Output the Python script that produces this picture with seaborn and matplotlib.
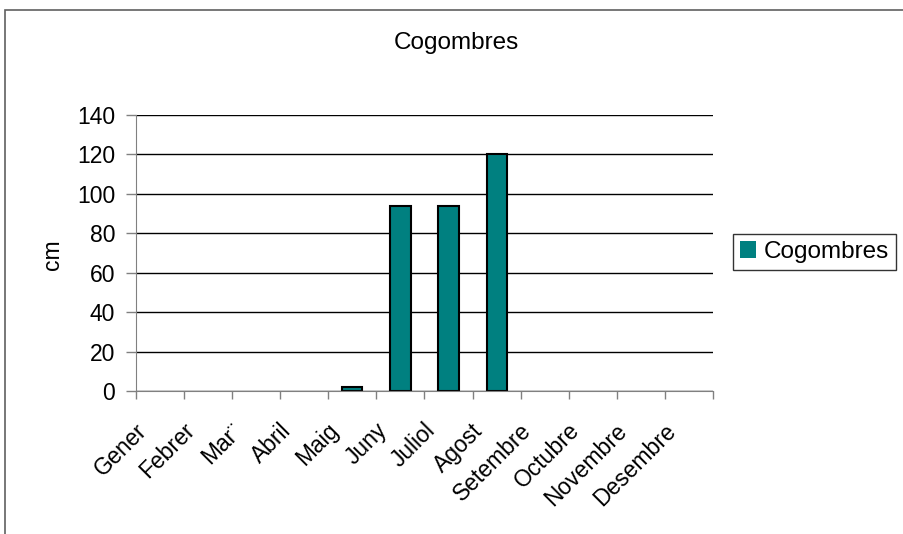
import matplotlib
matplotlib.use("Agg")
import matplotlib.pyplot as plt
import matplotlib.transforms as mtrans
from matplotlib.patches import Rectangle
import seaborn as sns
import pandas as pd

months = ["Gener", "Febrer", "Mar\u00a8", "Abril", "Maig", "Juny", "Juliol",
          "Agost", "Setembre", "Octubre", "Novembre", "Desembre"]
heights = [0, 0, 0, 0, 2, 94, 94, 120, 0, 0, 0, 0]
series_name = "Cogombres"
y_ticks = [0, 20, 40, 60, 80, 100, 120, 140]

sns.set_style("white")
plt.rcParams["font.family"] = ["Liberation Sans", "DejaVu Sans"]
plt.rcParams["text.color"] = "black"
plt.rcParams["xtick.labelcolor"] = "black"
plt.rcParams["ytick.labelcolor"] = "black"
FS = 16.5
FS_BIG = 17.5

df = pd.DataFrame({"mes": months, "cm": heights, "serie": series_name})

fig = plt.figure(figsize=(9.04, 5.34), dpi=100)
ax = fig.add_axes([136 / 904, 1 - 391 / 534, (713 - 136) / 904, (391 - 115) / 534])

sns.barplot(data=df, x="mes", y="cm", hue="serie", palette=["#008080"],
            saturation=1, edgecolor="black", linewidth=1.5, width=0.42,
            ax=ax, legend=True)
# empty months carry no visible bar outline
for p in ax.patches:
    if p.get_height() == 0:
        p.set_linewidth(0)

ax.set_ylim(0, 140)
ax.set_xlim(-0.5, len(months) - 0.5)
ax.set_yticks(y_ticks)
ax.set_yticklabels([str(v) for v in y_ticks], fontsize=FS)
ax.yaxis.grid(True, color="black", linewidth=1)
ax.set_axisbelow(True)

# category ticks on boundaries; month names placed under each category
ax.set_xticks([i - 0.5 for i in range(len(months) + 1)])
ax.set_xticklabels([])
ax.tick_params(axis="x", direction="out", length=6, width=1,
               color="#808080", bottom=True)
ax.tick_params(axis="y", direction="out", length=7, width=1,
               color="#808080", left=True, pad=8)

label_tf = mtrans.blended_transform_factory(ax.transData, ax.transAxes) + \
    mtrans.ScaledTranslation(-9 / 100, -28 / 100, fig.dpi_scale_trans)
for i, name in enumerate(months):
    ax.text(i, 0, name, transform=label_tf, rotation=45, ha="right",
            va="top", fontsize=FS, clip_on=False)

for side in ["top", "right"]:
    ax.spines[side].set_visible(False)
ax.spines["left"].set_color("#808080")
ax.spines["bottom"].set_color("#808080")

ax.set_xlabel("")
ax.set_ylabel("")
fig.text(53 / 904, 1 - 255 / 534, "cm", rotation=90, ha="center",
         va="center", fontsize=FS)
fig.text(456 / 904, 1 - 43 / 534, "Cogombres", ha="center", va="center",
         fontsize=FS_BIG)

leg = ax.legend(loc="center left", bbox_to_anchor=(733 / 904, 1 - 252 / 534),
                bbox_transform=fig.transFigure, fontsize=FS_BIG, frameon=True,
                fancybox=False, edgecolor="black", handlelength=0.65,
                handleheight=0.65, handletextpad=0.3, borderpad=0.3,
                borderaxespad=0)
leg.get_frame().set_linewidth(1)

# outer chart border
fig.patches.append(Rectangle((5 / 904, -0.1), 1.1, 1 - 10 / 534 + 0.1,
                             transform=fig.transFigure, fill=False,
                             edgecolor="#606060", linewidth=1.2))

fig.savefig("out.png", dpi=100)
